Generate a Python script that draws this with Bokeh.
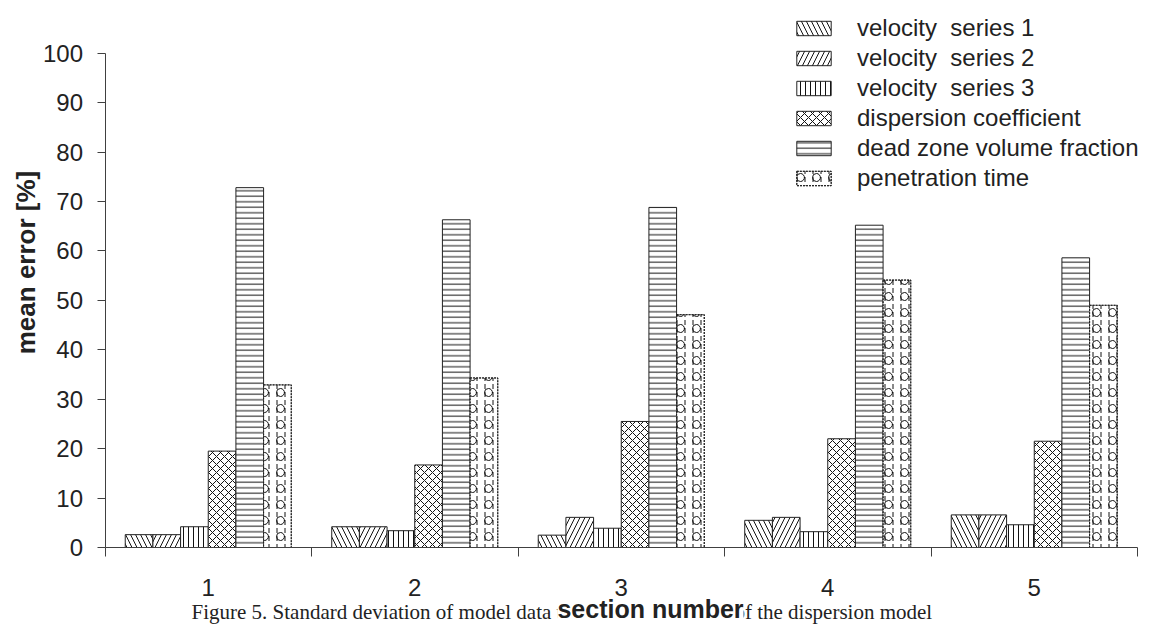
from bokeh.plotting import figure
from bokeh.models import (ColumnDataSource, Range1d, FixedTicker, Legend, LegendItem, Label)
from bokeh.transform import dodge
from bokeh.embed import file_html
from bokeh.resources import INLINE

# ---- data ----
sections = ["1", "2", "3", "4", "5"]
series_names = ["velocity  series 1", "velocity  series 2", "velocity  series 3",
                "dispersion coefficient", "dead zone volume fraction", "penetration time"]
velocity_1 = [2.6, 4.2, 2.5, 5.5, 6.6]
velocity_2 = [2.6, 4.2, 6.1, 6.1, 6.6]
velocity_3 = [4.2, 3.4, 3.9, 3.2, 4.6]
dispersion = [19.5, 16.7, 25.5, 22.0, 21.5]
dead_zone = [72.8, 66.3, 68.8, 65.2, 58.6]
penetration = [32.9, 34.3, 47.1, 54.1, 49.0]
y_ticks = [0, 10, 20, 30, 40, 50, 60, 70, 80, 90, 100]
x_title = "section number"
y_title = "mean error [%]"
caption = "Figure 5.  Standard deviation of model data to the measurements of the dispersion model"

FONT = "Liberation Sans"
TXT = "#222222"
AX = "#404040"

n = len(sections)
centers = [i + 0.5 for i in range(n)]
src = ColumnDataSource(dict(x=centers, v1=velocity_1, v2=velocity_2, v3=velocity_3,
                            disp=dispersion, dead=dead_zone, pen=penetration))

# The frame fills the whole canvas; the axes are pinned at x=0 / y=0.
W_PX, H_PX = 1157, 624
X0_PX, Y0_PX = 104.5, 547.0        # pixel position of the data origin
SX, SY = 206.5, 4.943              # pixels per section / per percent
p = figure(width=W_PX, height=H_PX, output_backend="svg", toolbar_location=None,
           x_range=Range1d(-X0_PX / SX, (W_PX - X0_PX) / SX),
           y_range=Range1d((Y0_PX - H_PX) / SY, Y0_PX / SY),
           min_border=0, min_border_left=0, min_border_right=0,
           min_border_top=0, min_border_bottom=0)
p.outline_line_color = None
p.xgrid.visible = False
p.ygrid.visible = False
p.background_fill_color = "white"
p.border_fill_color = "white"

W = 0.134
styles = [
    ("v1", dict(hatch_pattern="\\", hatch_scale=10)),
    ("v2", dict(hatch_pattern="/", hatch_scale=10)),
    ("v3", dict(hatch_pattern="|", hatch_scale=5)),
    ("disp", dict(hatch_pattern="x", hatch_scale=8)),
    ("dead", dict(hatch_pattern="-", hatch_scale=5.5)),
]
renderers = []
for k, (col, st) in enumerate(styles):
    r = p.vbar(x=dodge("x", (k - 2.5) * W, range=p.x_range), top=col, width=W, source=src,
               fill_color="white", line_color="#222222", line_width=1,
               hatch_color="#111111", hatch_weight=1, **st)
    renderers.append([r])

pen_a = p.vbar(x=dodge("x", 2.5 * W, range=p.x_range), top="pen", width=W, source=src,
               fill_color="white", line_color="#222222", line_width=1, line_dash="2 1",
               hatch_pattern=":", hatch_scale=8, hatch_color="#111111", hatch_weight=1)
pen_b = p.vbar(x=dodge("x", 2.5 * W, range=p.x_range), top="pen", width=W, source=src,
               fill_alpha=0, line_color="#222222", line_width=1, line_dash="2 1",
               hatch_pattern="o", hatch_scale=16, hatch_color="#111111", hatch_weight=1)
renderers.append([pen_a, pen_b])

# ---- axes ----
xa = p.xaxis[0]
xa.fixed_location = 0
xa.bounds = (0, n)
xa.ticker = FixedTicker(ticks=centers, minor_ticks=list(range(n + 1)))
xa.major_label_overrides = {c: s for c, s in zip(centers, sections)}
xa.major_tick_out = 0
xa.major_tick_in = 0
xa.minor_tick_out = 9
xa.minor_tick_in = 0
xa.minor_tick_line_color = AX
xa.axis_line_color = AX
xa.major_label_standoff = 22
xa.major_label_text_font = FONT
xa.major_label_text_font_size = "24px"
xa.major_label_text_color = TXT

ya = p.yaxis[0]
ya.fixed_location = 0
ya.bounds = (0, 100)
ya.ticker = FixedTicker(ticks=y_ticks, minor_ticks=[])
ya.major_tick_out = 8
ya.major_tick_in = 0
ya.major_tick_line_color = AX
ya.axis_line_color = AX
ya.major_label_standoff = 14
ya.major_label_text_font = FONT
ya.major_label_text_font_size = "24px"
ya.major_label_text_color = TXT

def px_x(px):
    return (px - X0_PX) / SX

def px_y(py):
    return (Y0_PX - py) / SY

# ---- titles and caption (underlay, so the tick labels stay on top) ----
p.add_layout(Label(x=px_x(25), y=px_y(262), text=y_title, angle=90, angle_units="deg",
                   text_align="center", text_baseline="middle",
                   text_font=FONT, text_font_size="26px", text_font_style="bold", text_color=TXT))
p.add_layout(Label(x=px_x(191), y=px_y(623), text=caption, text_align="left", text_baseline="bottom",
                   text_font="Liberation Serif", text_font_size="21px", text_color=TXT,
                   level="underlay"))
p.add_layout(Label(x=px_x(650), y=px_y(622), text=x_title, text_align="center",
                   text_baseline="bottom",
                   text_font=FONT, text_font_size="25px", text_font_style="bold", text_color=TXT,
                   background_fill_color="white", background_fill_alpha=1.0,
                   level="underlay"))

# ---- legend ----
legend = Legend(items=[LegendItem(label=nm, renderers=r) for nm, r in zip(series_names, renderers)],
                location=(792, H_PX - 192), orientation="vertical",
                glyph_width=43, glyph_height=18, label_standoff=22, spacing=2,
                label_text_font=FONT, label_text_font_size="24px", label_text_color=TXT,
                label_height=26, padding=0, margin=0,
                border_line_color=None, background_fill_alpha=0)
p.add_layout(legend)

open("out.html", "w").write(file_html(p, INLINE))
